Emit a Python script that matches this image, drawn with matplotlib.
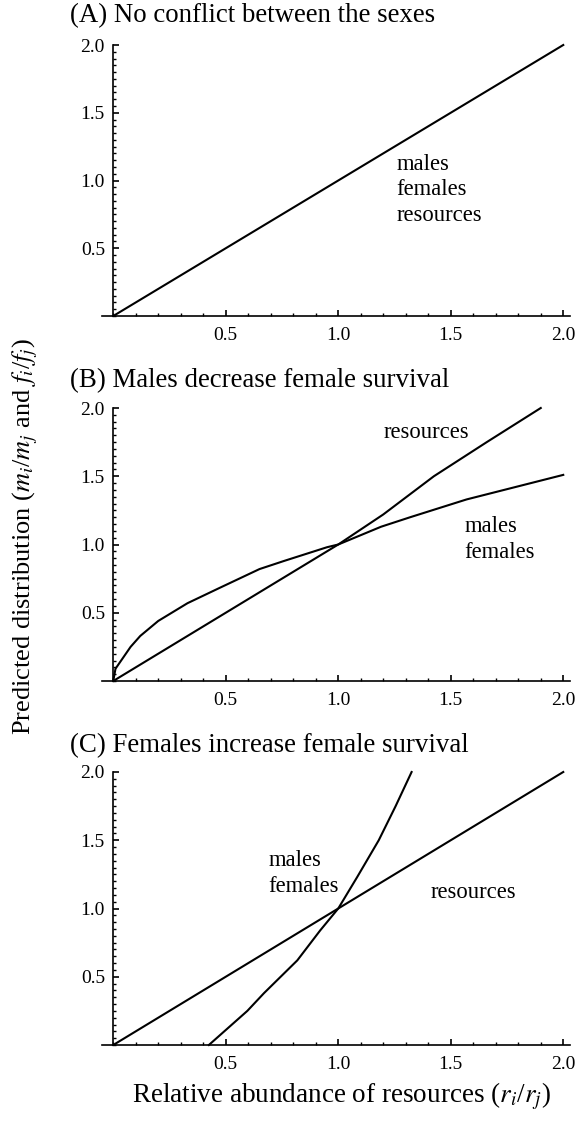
import matplotlib
matplotlib.use("Agg")
import matplotlib.pyplot as plt
from matplotlib.ticker import MultipleLocator, FixedLocator

plt.rcParams['font.family'] = ['Liberation Serif', 'DejaVu Serif']
plt.rcParams['mathtext.fontset'] = 'stix'

# Panel A: all three coincide
a_x = [0.0, 0.5, 1.0, 1.5, 2.0]
a_y = [0.0, 0.5, 1.0, 1.5, 2.0]

# Panel B
b_res_x = [0.0, 0.33, 0.67, 1.0, 1.2, 1.425, 1.66, 1.9]
b_res_y = [0.0, 0.33, 0.67, 1.0, 1.22, 1.5, 1.75, 2.0]
b_mf_x = [0.0, 0.01, 0.077, 0.12, 0.2, 0.33, 0.47, 0.65, 0.76, 0.95, 1.0, 1.19, 1.32, 1.57, 2.0]
b_mf_y = [0.0, 0.09, 0.25, 0.33, 0.44, 0.57, 0.68, 0.82, 0.88, 0.98, 1.0, 1.13, 1.20, 1.33, 1.51]

# Panel C
c_res_x = [0.0, 0.5, 1.0, 1.5, 2.0]
c_res_y = [0.0, 0.5, 1.0, 1.5, 2.0]
c_mf_x = [0.425, 0.596, 0.67, 0.818, 0.92, 1.0, 1.084, 1.18, 1.255, 1.326]
c_mf_y = [0.0, 0.25, 0.38, 0.62, 0.84, 1.0, 1.23, 1.50, 1.75, 2.0]

titles = ["(A) No conflict between the sexes",
          "(B) Males decrease female survival",
          "(C) Females increase female survival"]
xticks = [0.5, 1.0, 1.5, 2.0]
yticks = [0.5, 1.0, 1.5, 2.0]

fig = plt.figure(figsize=(5.76, 11.21), dpi=100)
W, H = 576.0, 1121.0
left = 102 / W
width = 468 / W
bottoms_px = [316, 681, 1045]
tops_px = [45, 408, 772]
title_y_px = [16, 381, 746]

axes = []
for i in range(3):
    b = 1 - bottoms_px[i] / H
    h = (bottoms_px[i] - tops_px[i]) / H
    ax = fig.add_axes([left, b, width, h])
    ax.set_xlim(-0.05, 2.03)
    ax.set_ylim(0, 2.0)
    ax.spines['left'].set_position(('data', 0))
    ax.spines['top'].set_visible(False)
    ax.spines['right'].set_visible(False)
    ax.spines['left'].set_linewidth(1.2)
    ax.spines['bottom'].set_linewidth(1.2)
    ax.xaxis.set_major_locator(FixedLocator(xticks))
    ax.yaxis.set_major_locator(FixedLocator(yticks))
    ax.xaxis.set_minor_locator(MultipleLocator(0.1))
    ax.yaxis.set_minor_locator(MultipleLocator(0.05))
    ax.set_xticklabels(["0.5", "1.0", "1.5", "2.0"])
    ax.set_yticklabels(["0.5", "1.0", "1.5", "2.0"])
    ax.tick_params(axis='both', which='major', direction='in', length=4, width=1.2,
                   labelsize=14, pad=8)
    ax.tick_params(axis='both', which='minor', direction='in', length=2.2, width=1.0)
    ax.tick_params(axis='y', which='major', pad=6)
    ax.patch.set_visible(False)
    fig.text(70 / W, 1 - title_y_px[i] / H, titles[i], fontsize=19.4,
             ha='left', va='center')
    axes.append(ax)

lw = 1.5
axA, axB, axC = axes
axA.plot(a_x, a_y, color='black', lw=lw, clip_on=False)
fs = 16.3
axA.text(1.26, 1.12, "males", fontsize=fs, va='center', ha='left')
axA.text(1.26, 0.93, "females", fontsize=fs, va='center', ha='left')
axA.text(1.26, 0.74, "resources", fontsize=fs, va='center', ha='left')

axB.plot(b_res_x, b_res_y, color='black', lw=lw, clip_on=False)
axB.plot(b_mf_x, b_mf_y, color='black', lw=lw, clip_on=False)
axB.text(1.2, 1.82, "resources", fontsize=fs, va='center', ha='left')
axB.text(1.56, 1.13, "males", fontsize=fs, va='center', ha='left')
axB.text(1.56, 0.94, "females", fontsize=fs, va='center', ha='left')

axC.plot(c_res_x, c_res_y, color='black', lw=lw, clip_on=False)
axC.plot(c_mf_x, c_mf_y, color='black', lw=lw, clip_on=False)
axC.text(0.69, 1.35, "males", fontsize=fs, va='center', ha='left')
axC.text(0.69, 1.16, "females", fontsize=fs, va='center', ha='left')
axC.text(1.41, 1.12, "resources", fontsize=fs, va='center', ha='left')

fig.text(25 / W, 1 - 537 / H,
         r"Predicted distribution ($m_i$/$m_j$ and $f_i$/$f_j$)",
         rotation=90, fontsize=19, ha='center', va='center')
fig.text(341 / W, 1 - 1096 / H,
         r"Relative abundance of resources ($r_i$/$r_j$)",
         fontsize=19.5, ha='center', va='center')

fig.savefig("out.png", dpi=100)
